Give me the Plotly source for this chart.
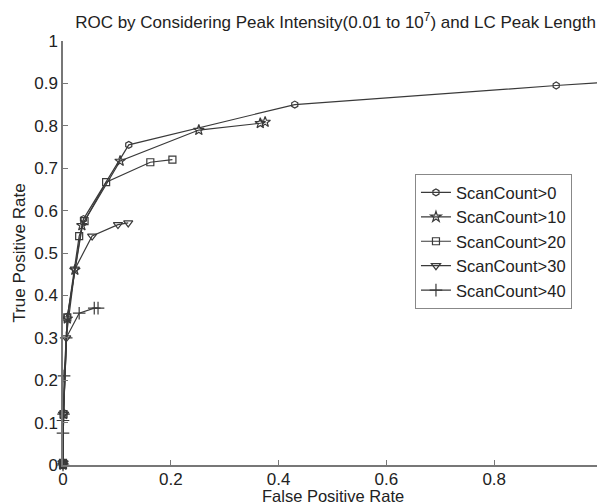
import plotly.graph_objects as go

names = ["ScanCount>0", "ScanCount>10", "ScanCount>20", "ScanCount>30", "ScanCount>40"]

fpr_0 = [0.0, 0.0, 0.001, 0.008, 0.038, 0.122, 0.43, 0.915, 1.0]
tpr_0 = [0.0, 0.005, 0.123, 0.35, 0.58, 0.755, 0.85, 0.895, 0.902]

fpr_10 = [0.0, 0.0, 0.001, 0.008, 0.022, 0.035, 0.106, 0.252, 0.366, 0.375]
tpr_10 = [0.0, 0.005, 0.12, 0.345, 0.46, 0.565, 0.717, 0.79, 0.806, 0.809]

fpr_20 = [0.0, 0.0, 0.001, 0.008, 0.03, 0.04, 0.08, 0.162, 0.203]
tpr_20 = [0.0, 0.005, 0.12, 0.348, 0.54, 0.575, 0.667, 0.714, 0.72]

fpr_30 = [0.0, 0.0, 0.001, 0.006, 0.022, 0.054, 0.102, 0.121]
tpr_30 = [0.0, 0.005, 0.12, 0.30, 0.462, 0.54, 0.567, 0.571]

fpr_40 = [0.0, 0.0, 0.0, 0.001, 0.002, 0.006, 0.03, 0.058, 0.065]
tpr_40 = [0.0, 0.075, 0.105, 0.12, 0.21, 0.30, 0.358, 0.37, 0.37]

series = [(fpr_0, tpr_0), (fpr_10, tpr_10), (fpr_20, tpr_20), (fpr_30, tpr_30), (fpr_40, tpr_40)]
symbols = ["hexagon-open", "star-open", "square-open", "triangle-down-open", "cross-thin-open"]
sizes = [7, 8, 7, 8, 9]

fig = go.Figure()
for name, (xs, ys), sym, sz in zip(names, series, symbols, sizes):
    fig.add_trace(go.Scatter(
        x=xs, y=ys, name=name, mode="lines+markers",
        line=dict(color="#3a3a3a", width=1.2),
        marker=dict(symbol=sym, size=sz, color="#3a3a3a", line=dict(color="#3a3a3a", width=1.2)),
        cliponaxis=False,
    ))

axis_common = dict(
    showgrid=False, zeroline=False, showline=True, linecolor="#777777", linewidth=1.5,
    ticks="inside", ticklen=5, tickcolor="#777777", mirror=False, automargin=False,
    ticklabeloverflow="allow",
    tickfont=dict(family="Liberation Sans, Arial", size=17, color="#222222"),
    range=[0, 1],
)

fig.update_layout(
    width=597, height=496,
    margin=dict(l=55, r=3, t=33, b=39),
    paper_bgcolor="white", plot_bgcolor="white",
    font=dict(family="Liberation Sans, Arial", color="#222222"),
    title=dict(text="ROC by Considering Peak Intensity(0.01 to 10<sup>7</sup>) and LC Peak Length",
               x=0.5486, xanchor="center", y=0.972, yanchor="middle",
               font=dict(size=17, color="#222222")),
    xaxis=dict(**axis_common, dtick=0.2, ticklabelstandoff=-2),
    yaxis=dict(**axis_common, dtick=0.1,
               title=dict(text="True Positive Rate", standoff=4, font=dict(size=17))),
    legend=dict(x=0.653, y=0.686, xanchor="left", yanchor="top",
                bordercolor="#888888", borderwidth=1, bgcolor="white",
                font=dict(size=16.5, color="#222222"), itemwidth=30),
    showlegend=True,
)
fig.add_annotation(text="False Positive Rate", xref="paper", yref="paper",
                   x=0.5, y=-0.073, xanchor="center", yanchor="middle",
                   showarrow=False, font=dict(size=16.5, color="#222222"))

fig.write_html("out.html")
